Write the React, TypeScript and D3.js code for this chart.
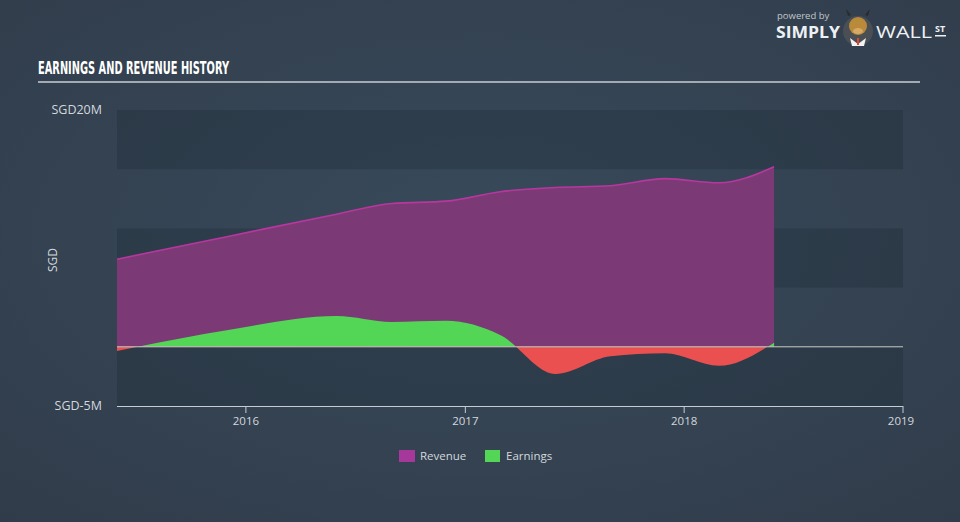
import React from "react";
import * as d3 from "d3";

const dates = ["2015-05-31","2015-11-30","2016-05-31","2016-08-31","2016-11-30","2017-02-28","2017-05-31","2017-08-31","2017-11-30","2018-02-28","2018-05-31"];
const revenue = [7.4, 9.3, 11.2, 12.1, 12.3, 13.1, 13.45, 13.6, 14.2, 13.85, 15.2];
const earnings = [-0.35, 1.4, 2.6, 2.1, 2.2, 1.0, -2.3, -0.8, -0.55, -1.6, 0.35];
const yTicks = [20, -5];
const yTickLabels = ["SGD20M", "SGD-5M"];
const xTickYears = [2016, 2017, 2018, 2019];
const legendItems = ["Revenue", "Earnings"];

const W = 960, H = 522;
const FONT = "'Open Sans', 'DejaVu Sans', sans-serif";

export default function App() {
  const parse = d3.timeParse("%Y-%m-%d");
  const data = dates.map((d, i) => ({ date: parse(d) as Date, rev: revenue[i], earn: earnings[i] }));
  const x = d3.scaleTime().domain([new Date(2015, 4, 31), new Date(2019, 0, 1)]).range([117, 903]);
  const y = d3.scaleLinear().domain([-5, 20]).range([406, 110]);
  const y0 = y(0);

  const revArea = d3.area<any>().x(d => x(d.date)).y0(y0).y1(d => y(d.rev)).curve(d3.curveMonotoneX);
  const revLine = d3.line<any>().x(d => x(d.date)).y(d => y(d.rev)).curve(d3.curveMonotoneX);
  const earnArea = d3.area<any>().x(d => x(d.date)).y0(y0).y1(d => y(d.earn)).curve(d3.curveMonotoneX);

  const bands = [20, 15, 10, 5, 0].map((v, i) => ({ top: y(v), bottom: y(v - 5), dark: i % 2 === 0 }));

  return (
    <svg width={W} height={H} style={{ position: "absolute", left: 0, top: 0 }}>
      <defs>
        <radialGradient id="bg" cx="50%" cy="45%" r="75%">
          <stop offset="0%" stopColor="#384a5b" />
          <stop offset="100%" stopColor="#313c4a" />
        </radialGradient>
        <clipPath id="above"><rect x={0} y={0} width={W} height={y0} /></clipPath>
        <clipPath id="below"><rect x={0} y={y0} width={W} height={H - y0} /></clipPath>
      </defs>
      <rect width={W} height={H} fill="url(#bg)" />

      {/* title */}
      <text x={38} y={74} fill="#ffffff" fontFamily="'Liberation Sans Narrow', 'DejaVu Sans Condensed', sans-serif" fontWeight="bold" fontSize={17.5} textLength={191} lengthAdjust="spacingAndGlyphs">EARNINGS AND REVENUE HISTORY</text>
      <rect x={38} y={81} width={882} height={2} fill="#a2aab3" />

      {/* bands */}
      {bands.map((b, i) => (
        <rect key={i} x={117} y={b.top} width={786} height={b.bottom - b.top} fill={b.dark ? "rgba(20,30,42,0.22)" : "rgba(255,255,255,0.0)"} />
      ))}

      {/* revenue */}
      <path d={revArea(data) as string} fill="#7b3a76" />
      <path d={revLine(data) as string} fill="none" stroke="#b8379f" strokeWidth={1.6} />

      {/* earnings */}
      <path d={earnArea(data) as string} fill="#53d655" clipPath="url(#above)" />
      <path d={earnArea(data) as string} fill="#ea5050" clipPath="url(#below)" />

      {/* zero line */}
      <line x1={117} x2={903} y1={y0} y2={y0} stroke="#c9ccc4" strokeWidth={1} />

      {/* y labels */}
      {yTicks.map((t, i) => (
        <text key={t} x={102} y={y(t) + 4} textAnchor="end" fill="#d3d8dd" fontFamily={FONT} fontSize={12.5}>{yTickLabels[i]}</text>
      ))}
      <text transform={`translate(57,260) rotate(-90)`} textAnchor="middle" fill="#d3d8dd" fontFamily={FONT} fontSize={12}>SGD</text>

      {/* x axis */}
      <line x1={117} x2={903} y1={406.5} y2={406.5} stroke="#c5ccd4" strokeWidth={1} />
      {xTickYears.map(yr => {
        const px = x(new Date(yr, 0, 1));
        return (
          <g key={yr}>
            <line x1={px} x2={px} y1={406} y2={413} stroke="#c5ccd4" strokeWidth={1} />
            <text x={yr === 2019 ? px - 2 : px} y={425} textAnchor="middle" fill="#d3d8dd" fontFamily={FONT} fontSize={11.5}>{yr}</text>
          </g>
        );
      })}

      {/* legend */}
      <rect x={399} y={450} width={16} height={12} fill="#a5389a" />
      <text x={420} y={460} fill="#d3d8dd" fontFamily={FONT} fontSize={11.5}>{legendItems[0]}</text>
      <rect x={485} y={450} width={15} height={12} fill="#53d655" />
      <text x={506} y={460} fill="#d3d8dd" fontFamily={FONT} fontSize={11.5}>{legendItems[1]}</text>

      {/* logo */}
      <text x={777} y={19} fill="#c0c6cc" fontFamily={FONT} fontSize={9.5}>powered by</text>
      <text x={776} y={38} fill="#eef1f4" fontFamily={FONT} fontWeight="bold" fontSize={16} textLength={64} lengthAdjust="spacingAndGlyphs">SIMPLY</text>
      <circle cx={858} cy={31} r={15} fill="#4a4f55" />
      <ellipse cx={858} cy={26} rx={9} ry={9} fill="#b98a3a" />
      <path d="M848,16 L846,9 L851,15 Z M868,16 L870,9 L865,15 Z" fill="#2a2a2a" />
      <ellipse cx={858} cy={31} rx={5} ry={3} fill="#d6aa66" />
      <path d="M850,38 L858,44 L866,38 L864,46 L852,46 Z" fill="#f2f2f2" />
      <rect x={857} y={38} width={2} height={7} fill="#e0482c" />
      <text x={876} y={38} fill="#eef1f4" fontFamily={FONT} fontSize={16} textLength={56} lengthAdjust="spacingAndGlyphs">WALL</text>
      <text x={935} y={32} fill="#eef1f4" fontFamily={FONT} fontWeight="bold" fontSize={9}>ST</text>
      <rect x={935} y={35} width={11} height={1.5} fill="#eef1f4" />
    </svg>
  );
}
